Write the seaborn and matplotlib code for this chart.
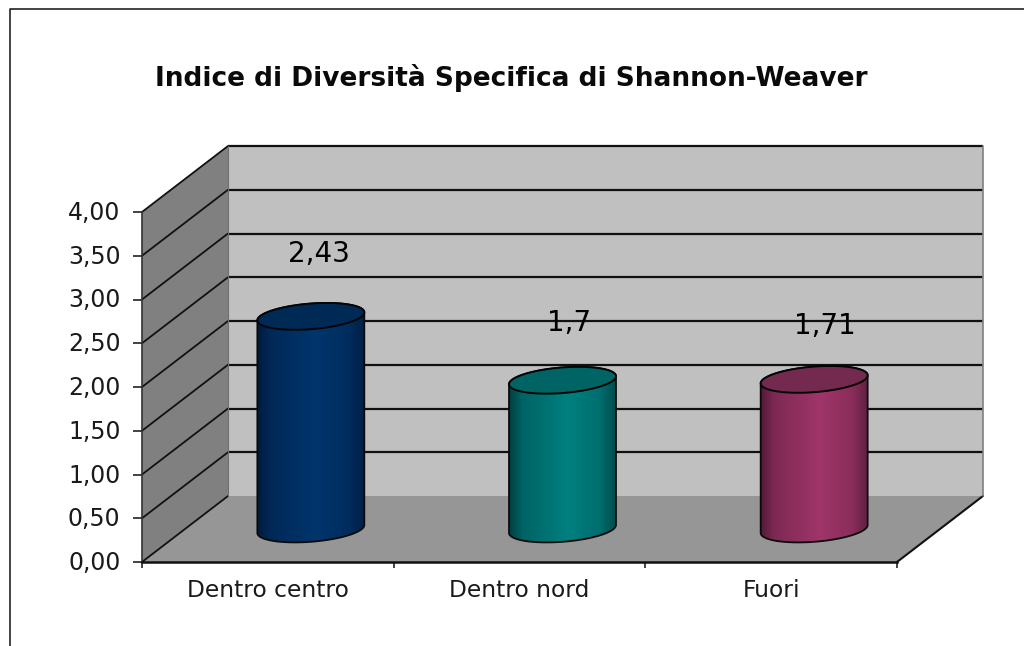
import numpy as np
import matplotlib
matplotlib.use("Agg")
import matplotlib.pyplot as plt
import seaborn as sns
from matplotlib.colors import to_rgb
from matplotlib.lines import Line2D
from matplotlib.patches import Polygon
from matplotlib.transforms import ScaledTranslation

# ---- data ----
categories = ["Dentro centro", "Dentro nord", "Fuori"]
values = [2.43, 1.70, 1.71]
value_labels = ["2,43", "1,7", "1,71"]
y_ticks = [0.0, 0.5, 1.0, 1.5, 2.0, 2.5, 3.0, 3.5, 4.0]
y_tick_labels = ["0,00", "0,50", "1,00", "1,50", "2,00", "2,50", "3,00", "3,50", "4,00"]
title = "Indice di Diversità Specifica di Shannon-Weaver"

# ---- style ----
edge_colors = ["#001a3d", "#003f40", "#521b38"]
mid_colors = ["#00356c", "#008080", "#a03569"]
top_colors = ["#002a56", "#006464", "#742a4e"]
label_offsets_px = [(8, 62), (7, 57), (11, 53)]

sns.set_theme(style="white")
plt.rcParams["font.family"] = ["DejaVu Sans"]

W, H = 1024, 646
L, R, T, B = 142, 897, 212, 562
DEPTH_X, DEPTH_Y = 86, 66

fig = plt.figure(figsize=(W / 100, H / 100), dpi=100, facecolor="white")
ax = fig.add_axes([L / W, 1 - B / H, (R - L) / W, (B - T) / H])
ax.patch.set_visible(False)

sns.barplot(x=categories, y=values, hue=categories, palette=mid_colors,
            width=0.425, legend=False, ax=ax, zorder=3, saturation=1, linewidth=0)
ax.set_xlim(-0.5, 2.5)
ax.set_ylim(0, 4)
bars = list(ax.patches)

px_x = 3 / (R - L)
px_y = 4 / (B - T)
ddx, ddy = DEPTH_X * px_x, DEPTH_Y * px_y
x0, x1 = -0.5, 2.5
y_top = y_ticks[-1]

# walls and floor
ax.add_patch(Polygon([(x0, 0), (x0 + ddx, ddy), (x0 + ddx, y_top + ddy), (x0, y_top)],
                     closed=True, fc="#808080", ec="none", clip_on=False, zorder=0))
ax.add_patch(Polygon([(x0 + ddx, ddy), (x1 + ddx, ddy), (x1 + ddx, y_top + ddy), (x0 + ddx, y_top + ddy)],
                     closed=True, fc="#c0c0c0", ec="none", clip_on=False, zorder=0))
ax.add_patch(Polygon([(x0, 0), (x1, 0), (x1 + ddx, ddy), (x0 + ddx, ddy)],
                     closed=True, fc="#969696", ec="none", clip_on=False, zorder=0))

# gridlines
for v in y_ticks[1:]:
    ax.plot([x0 + ddx, x1 + ddx], [v + ddy, v + ddy], color="#111111", lw=1.6,
            clip_on=False, zorder=1, solid_capstyle="butt")
for v in y_ticks:
    ax.plot([x0, x0 + ddx], [v, v + ddy], color="#111111", lw=1.3, clip_on=False, zorder=1)
ax.plot([x1, x1 + ddx], [0, ddy], color="#111111", lw=1.5, clip_on=False, zorder=1)
ax.plot([x0 + ddx, x0 + ddx], [ddy, y_top + ddy], color="#707070", lw=0.8, clip_on=False, zorder=1)
ax.plot([x1 + ddx, x1 + ddx], [ddy, y_top + ddy], color="#808080", lw=1.2, clip_on=False, zorder=1)

# cylinders, built from the bars that seaborn placed
A_PX, B_PX, SHEAR = 53.5, 12.8, 4 / 53.5
stops = [0.0, 0.12, 0.55, 0.85, 1.0]
t = np.linspace(0, 2 * np.pi, 241)

for i, bar in enumerate(bars):
    val = bar.get_height()
    cx = bar.get_x() + bar.get_width() / 2 + ddx / 2
    cy = ddy / 2
    a = bar.get_width() / 2
    # the flat bar stays inside the cylinder drawn over it
    bar.set_width(2 * a * 0.9)
    bar.set_x(cx - a * 0.9)
    bar.set_y(cy)

    def ell(base, tt):
        return (cx + a * np.cos(tt),
                base + (SHEAR * A_PX * np.cos(tt) + B_PX * np.sin(tt)) * px_y)

    tb = np.linspace(np.pi, 2 * np.pi, 120)   # front (lower) half
    tt = np.linspace(0, np.pi, 120)           # rear (upper) half
    bx, by = ell(cy, tb)
    ux, uy = ell(cy + val, tt)
    outline = np.column_stack([np.r_[bx, ux], np.r_[by, uy]])

    c0, c1 = np.array(to_rgb(edge_colors[i])), np.array(to_rgb(mid_colors[i]))
    mix = np.interp(np.linspace(0, 1, 256), stops, [0.0, 0.55, 1.0, 0.72, 0.2])
    grad = (c0[None, :] * (1 - mix[:, None]) + c1[None, :] * mix[:, None])[None, :, :]
    im = ax.imshow(grad, extent=[cx - a, cx + a, cy - 0.3, cy + val + 0.3],
                   aspect="auto", zorder=4, interpolation="bilinear")
    clip = Polygon(outline, closed=True, transform=ax.transData, fc="none", ec="none")
    ax.add_patch(clip)
    im.set_clip_path(clip)
    ax.add_patch(Polygon(outline, closed=True, fc="none", ec="#0a0a0a", lw=1.3, zorder=5, clip_on=False))
    ex, ey = ell(cy + val, t)
    ax.add_patch(Polygon(np.column_stack([ex, ey]), closed=True, fc=top_colors[i],
                         ec="#050505", lw=1.4, zorder=6, clip_on=False))

    off = label_offsets_px[i]
    ax.annotate(value_labels[i], xy=(cx, cy + val), xytext=(off[0] * 0.72, off[1] * 0.72),
                textcoords="offset points", ha="center", va="center",
                fontsize=20, color="#000000", zorder=7, annotation_clip=False)

ax.set_xlim(-0.5, 2.5)
ax.set_ylim(0, 4)

# axes and ticks
for s in ("top", "right"):
    ax.spines[s].set_visible(False)
ax.spines["left"].set_color("#333333")
ax.spines["left"].set_linewidth(1.2)
ax.spines["bottom"].set_color("#111111")
ax.spines["bottom"].set_linewidth(1.8)
ax.spines["left"].set_zorder(8)
ax.spines["bottom"].set_zorder(8)

ax.set_yticks(y_ticks, y_tick_labels)
ax.tick_params(axis="y", left=True, length=6.5, width=1.2, color="#222222", pad=9,
               labelsize=17, labelcolor="#1a1a1a")
lift = ScaledTranslation(0, 1.5 / 100, fig.dpi_scale_trans)
for lab in ax.get_yticklabels():
    lab.set_transform(lab.get_transform() + lift)
ax.set_xticks(range(len(categories)), categories)
ax.tick_params(axis="x", which="major", bottom=False, pad=6.5, labelsize=16.8, labelcolor="#1a1a1a")
ax.set_xticks([x0, x0 + 1, x0 + 2, x1], minor=True)
ax.tick_params(axis="x", which="minor", bottom=True, length=4.5, width=1.2, color="#222222")
ax.set_xlabel("")
ax.set_ylabel("")

# title and outer frame
fig.text(511.5 / W, 1 - 78 / H, title, ha="center", va="center",
         fontsize=19, fontweight="bold", color="#0a0a0a")
fig.add_artist(Line2D([9.5 / W, 9.5 / W, 1], [0, 1 - 8.5 / H, 1 - 8.5 / H],
                      color="#111111", lw=1.1))

fig.savefig("out.png", dpi=100, facecolor="white")
